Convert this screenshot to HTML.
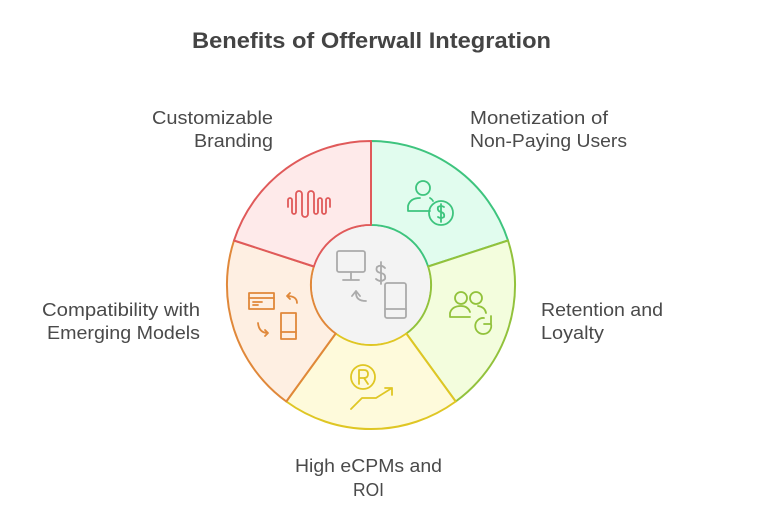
<!DOCTYPE html>
<html><head><meta charset="utf-8"><style>
html,body{margin:0;padding:0;background:#fff;}
svg{display:block;font-family:"Liberation Sans",sans-serif;}
</style></head><body>
<svg width="777" height="518" viewBox="0 0 777 518" xmlns="http://www.w3.org/2000/svg">
<text x="192" y="48" font-size="22" font-weight="bold" fill="#444" textLength="359" lengthAdjust="spacingAndGlyphs">Benefits of Offerwall Integration</text>
<g fill="#4a4a4a" font-size="18" lengthAdjust="spacingAndGlyphs">
<text x="152" y="124" textLength="121" lengthAdjust="spacingAndGlyphs">Customizable</text>
<text x="194" y="147" textLength="79" lengthAdjust="spacingAndGlyphs">Branding</text>
<text x="470" y="124" textLength="138" lengthAdjust="spacingAndGlyphs">Monetization of</text>
<text x="470" y="147" textLength="157" lengthAdjust="spacingAndGlyphs">Non-Paying Users</text>
<text x="541" y="316" textLength="122" lengthAdjust="spacingAndGlyphs">Retention and</text>
<text x="541" y="339" textLength="63" lengthAdjust="spacingAndGlyphs">Loyalty</text>
<text x="42" y="316" textLength="158" lengthAdjust="spacingAndGlyphs">Compatibility with</text>
<text x="47" y="339" textLength="153" lengthAdjust="spacingAndGlyphs">Emerging Models</text>
<text x="295" y="472" textLength="147" lengthAdjust="spacingAndGlyphs">High eCPMs and</text>
<text x="353" y="496" textLength="31" lengthAdjust="spacingAndGlyphs">ROI</text>
</g>
<g stroke-width="2" stroke-linejoin="round">
<path d="M371,141 A144,144 0 0 1 508,240.5 L428.1,266.5 A60,60 0 0 0 371,225 Z" fill="#e1fcee" stroke="#3ec47e"/>
<path d="M508,240.5 A144,144 0 0 1 455.7,401.5 L406.3,333.5 A60,60 0 0 0 428.1,266.5 Z" fill="#f3fddd" stroke="#92c23c"/>
<path d="M455.7,401.5 A144,144 0 0 1 286.3,401.5 L335.7,333.5 A60,60 0 0 0 406.3,333.5 Z" fill="#fefadb" stroke="#dfc624"/>
<path d="M286.3,401.5 A144,144 0 0 1 234,240.5 L313.9,266.5 A60,60 0 0 0 335.7,333.5 Z" fill="#feefe2" stroke="#e0883a"/>
<path d="M234,240.5 A144,144 0 0 1 371,141 L371,225 A60,60 0 0 0 313.9,266.5 Z" fill="#feeaea" stroke="#e05a5a"/>
<circle cx="371" cy="285" r="59" fill="#f3f3f3" stroke="none"/>
</g>
<g fill="none" stroke-width="1.8" stroke-linecap="round" stroke-linejoin="round">
<path d="M288,207 V200 A2,2 0 0 1 292,200 V212 A2,2 0 0 0 296,212 V194 A3,3 0 0 1 302,194 V214 A3,3 0 0 0 308,214 V194 A3,3 0 0 1 314,194 V212 A2,2 0 0 0 318,212 V200 A2,2 0 0 1 322,200 V212 A2,2 0 0 0 326,212 V200 A2,2 0 0 1 330,200 V207" stroke="#e05a5a"/>
<g stroke="#3ec47e"><circle cx="423" cy="188" r="7"/><path d="M408,211 V206 Q410,198 420,198 M430,198 Q432,199 433,201 M408,211 H430"/><circle cx="441" cy="213" r="12"/><path d="M444,207 Q441,205 438,207 Q437,211 441,212 Q445,213 444,217 Q441,219 438,217 M441,204 V222"/></g>
<g stroke="#92c23c"><circle cx="461" cy="298" r="6"/><circle cx="476" cy="298" r="6"/><path d="M450,317 V313 Q452,306 461,306 Q468,306 470,312 M450,317 H470 M478,306 Q485,307 486,313"/><path d="M491,324 A8,8 0 1 1 484,318 M491,316 V324 H484"/></g>
<g stroke="#dfc624"><circle cx="363" cy="377" r="12"/><path d="M359,384 V370 H364 Q368,370 368,374 Q368,378 364,378 H359 M364,378 L368,384"/><path d="M351,409 L362,398 H376 L392,388 M385,388 H392 V395"/></g>
<g stroke="#e0883a"><rect x="249" y="293" width="25" height="16"/><path d="M249,298 H274 M253,302 H262 M253,305 H258"/><path d="M297,303 Q297,296 287,296 M290,293 L287,296 L290,299"/><rect x="281" y="313" width="15" height="26"/><path d="M281,332 H296"/><path d="M258,323 Q259,333 268,333 M265,330 L268,333 L265,336"/></g>
<g stroke="#aaa"><rect x="337" y="251" width="28" height="21" rx="2"/><path d="M351,272 V280 M343,280 H359"/><path d="M385,268 Q381,264 377,267 Q375,272 381,273 Q386,274 385,279 Q381,283 376,279 M381,262 V284"/><path d="M366,301 Q356,301 356,293 M352,296 L356,291 L360,296"/><rect x="385" y="283" width="21" height="35" rx="2"/><path d="M385,309 H406"/></g>
</g>
</svg>
</body></html>
